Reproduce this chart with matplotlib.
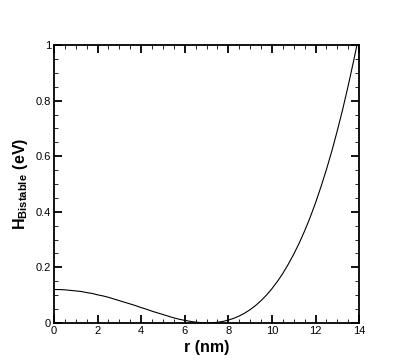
import matplotlib
matplotlib.use("Agg")
from matplotlib import pyplot as plt
from matplotlib.ticker import MultipleLocator, FuncFormatter

# values
r_nm = [0.0, 0.25, 0.5, 0.75, 1.0, 1.25, 1.5, 1.75, 2.0, 2.25, 2.5, 2.75,
        3.0, 3.25, 3.5, 3.75, 4.0, 4.25, 4.5, 4.75, 5.0, 5.25, 5.5, 5.75,
        6.0, 6.25, 6.5, 6.75, 7.0, 7.25, 7.5, 7.75, 8.0, 8.25, 8.5, 8.75,
        9.0, 9.25, 9.5, 9.75, 10.0, 10.25, 10.5, 10.75, 11.0, 11.25, 11.5,
        11.75, 12.0, 12.25, 12.5, 12.75, 13.0, 13.25, 13.5, 13.75, 13.9]
h_bistable = [0.120, 0.120, 0.119, 0.117, 0.115, 0.113, 0.109, 0.106, 0.101,
              0.097, 0.092, 0.086, 0.080, 0.074, 0.068, 0.062, 0.055, 0.049,
              0.042, 0.036, 0.030, 0.024, 0.018, 0.013, 0.009, 0.0055, 0.0027,
              0.0008, 0.0, 0.0004, 0.0021, 0.0052, 0.0099, 0.0164, 0.0247,
              0.0351, 0.0476, 0.0625, 0.080, 0.100, 0.123, 0.149, 0.178,
              0.211, 0.247, 0.287, 0.331, 0.379, 0.432, 0.490, 0.552, 0.619,
              0.692, 0.770, 0.854, 0.944, 1.0]

plt.rcParams['font.family'] = ['Liberation Sans', 'DejaVu Sans']
plt.rcParams['mathtext.fontset'] = 'custom'
plt.rcParams['mathtext.rm'] = 'Liberation Sans'
plt.rcParams['mathtext.bf'] = 'Liberation Sans:bold'

fig = plt.figure(figsize=(4.09, 3.64), dpi=100)
ax = fig.add_axes([0.132, 0.113, 0.746, 0.763])

ax.plot(r_nm, h_bistable, color='black', linewidth=0.8)

ax.set_xlim(0, 14)
ax.set_ylim(0, 1)
ax.xaxis.set_major_locator(MultipleLocator(2))
ax.xaxis.set_minor_locator(MultipleLocator(0.5))
ax.yaxis.set_major_locator(MultipleLocator(0.2))
ax.yaxis.set_minor_locator(MultipleLocator(0.05))
ax.yaxis.set_major_formatter(FuncFormatter(lambda v, p: f"{v:g}"))

ax.tick_params(which='both', direction='in', top=True, right=True,
               labelsize=8, pad=2)
ax.tick_params(which='major', length=5.5, width=1.3)
ax.tick_params(which='minor', length=3, width=0.6)
for s in ax.spines.values():
    s.set_linewidth(1.3)

ax.set_xlabel('r (nm)', fontsize=11.5, fontweight='bold', labelpad=3)
ax.set_ylabel(r'$\mathbf{H_{Bistable}\ (eV)}$', fontsize=11.5, labelpad=4)

fig.savefig('out.png', dpi=100)
